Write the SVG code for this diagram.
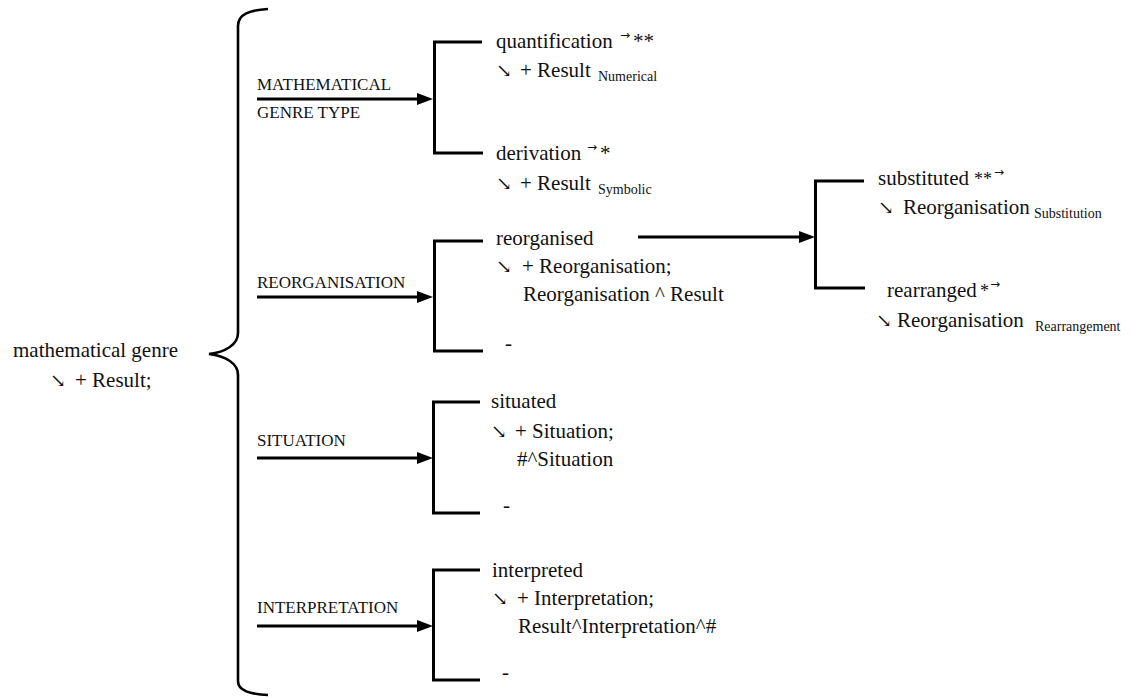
<svg xmlns="http://www.w3.org/2000/svg" width="1132" height="697" viewBox="0 0 1132 697">
<style>
text{font-family:"Liberation Serif","DejaVu Serif",serif;fill:#111;font-size:21px}
.lab{font-size:17px}
.sub{font-size:14px}
.sup{font-family:"DejaVu Sans",sans-serif;font-size:12px}
.dn{font-size:19px}
.ln{fill:none;stroke:#000;stroke-width:3}
.br{fill:none;stroke:#000;stroke-width:2.6}
</style>
<defs>
<marker id="ah" viewBox="0 0 16 12" refX="8" refY="6" markerWidth="16" markerHeight="12" markerUnits="userSpaceOnUse" orient="auto">
<path d="M0,0 L16,6 L0,12 z" fill="#000"/>
</marker>
</defs>
<rect width="1132" height="697" fill="#fff"/>
<g id="connectors">
<path class="br" d="M268 9 C250 10 238 14 238 26 L238 333 C238 345 225 352 209 354 C225 356 238 363 238 375 L238 681 C238 691 250 694 268 695"/>
<line class="ln" x1="257" y1="99" x2="425" y2="99" marker-end="url(#ah)"/>
<line class="ln" x1="257" y1="297" x2="425" y2="297" marker-end="url(#ah)"/>
<line class="ln" x1="257" y1="458" x2="425" y2="458" marker-end="url(#ah)"/>
<line class="ln" x1="257" y1="626" x2="425" y2="626" marker-end="url(#ah)"/>
<line class="ln" x1="638" y1="237" x2="807" y2="237" marker-end="url(#ah)"/>
<path class="ln" d="M482 42 H434.5 V153 H483"/>
<path class="ln" d="M483 241 H434.5 V351 H483"/>
<path class="ln" d="M480 402 H433.5 V513 H480"/>
<path class="ln" d="M480 570 H433.5 V680 H480"/>
<path class="ln" d="M864 181 H815.5 V288 H865"/>
</g>
<g id="root">
<text x="13" y="357">mathematical genre</text>
<text class="dn" x="50" y="387">↘</text>
<text x="75" y="387">+ Result;</text>
</g>
<g id="label-mgt">
<text class="lab" x="257" y="90">MATHEMATICAL</text>
<text class="lab" x="257" y="118">GENRE TYPE</text>
</g>
<g id="label-reorg"><text class="lab" x="257" y="288">REORGANISATION</text></g>
<g id="label-sit"><text class="lab" x="257" y="446">SITUATION</text></g>
<g id="label-int"><text class="lab" x="257" y="613">INTERPRETATION</text></g>
<g id="quantification">
<text x="496" y="48">quantification</text>
<text class="sup" x="620" y="39">→</text>
<text x="633" y="48">**</text>
<text class="dn" x="496" y="77">↘</text>
<text x="520" y="77">+ Result</text>
<text class="sub" x="598" y="81">Numerical</text>
</g>
<g id="derivation">
<text x="496" y="160">derivation</text>
<text class="sup" x="587" y="151">→</text>
<text x="600" y="160">*</text>
<text class="dn" x="496" y="190">↘</text>
<text x="520" y="190">+ Result</text>
<text class="sub" x="598" y="194">Symbolic</text>
</g>
<g id="reorganised">
<text x="496" y="245">reorganised</text>
<text class="dn" x="496" y="273">↘</text>
<text x="522" y="273">+ Reorganisation;</text>
<text x="523" y="301">Reorganisation ^ Result</text>
</g>
<g id="reorg-none"><text x="505" y="350">-</text></g>
<g id="substituted">
<text x="878" y="185">substituted</text>
<text x="974" y="185" style="font-size:18px">**</text>
<text class="sup" x="994" y="176">→</text>
<text class="dn" x="878" y="214">↘</text>
<text x="903" y="214">Reorganisation</text>
<text class="sub" x="1034" y="218">Substitution</text>
</g>
<g id="rearranged">
<text x="887" y="297">rearranged</text>
<text x="980" y="297" style="font-size:18px">*</text>
<text class="sup" x="990" y="288">→</text>
<text class="dn" x="876" y="327">↘</text>
<text x="897" y="327">Reorganisation</text>
<text class="sub" x="1035" y="331">Rearrangement</text>
</g>
<g id="situated">
<text x="491" y="408">situated</text>
<text class="dn" x="491" y="438">↘</text>
<text x="515" y="438">+ Situation;</text>
<text x="517" y="466">#^Situation</text>
</g>
<g id="sit-none"><text x="503" y="512">-</text></g>
<g id="interpreted">
<text x="492" y="577">interpreted</text>
<text class="dn" x="492" y="605">↘</text>
<text x="517" y="605">+ Interpretation;</text>
<text x="518" y="633">Result^Interpretation^#</text>
</g>
<g id="int-none"><text x="502" y="679">-</text></g>
</svg>
